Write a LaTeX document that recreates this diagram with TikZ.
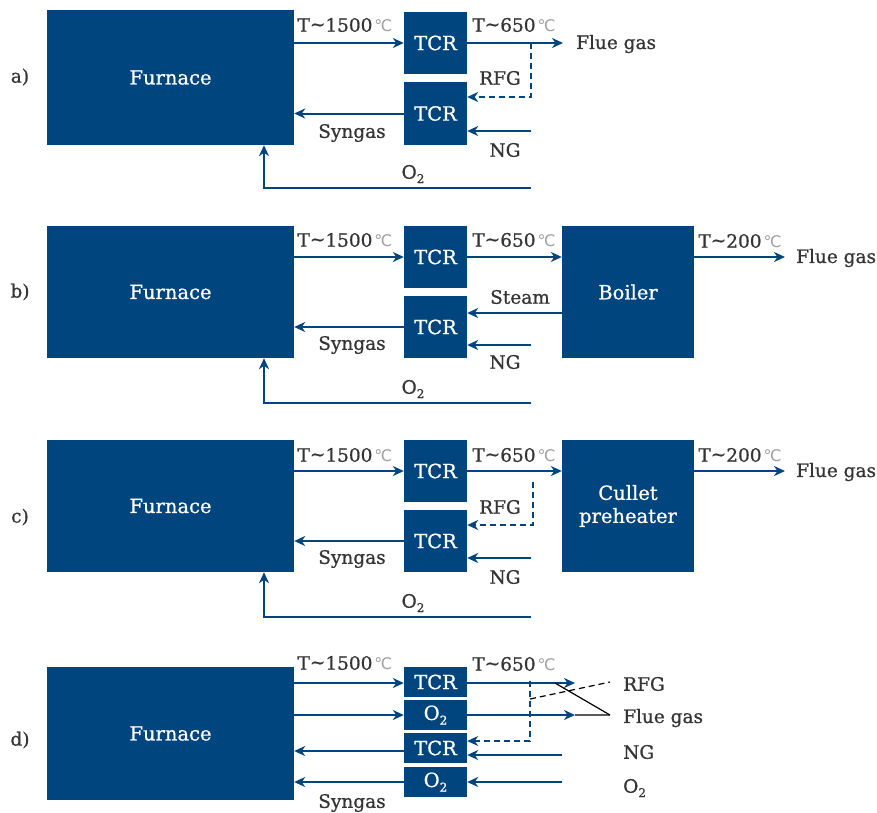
\documentclass[tikz,border=0pt]{standalone}
\usepackage{fontspec}
\setmainfont{DejaVu Serif}[RawFeature={embolden=0.8}]
\newfontfamily\symfam{DejaVu Sans}
\usetikzlibrary{arrows.meta}
\definecolor{boxblue}{HTML}{00457E}
\definecolor{txtgray}{HTML}{353535}
\newcommand{\dgc}{\hspace{2pt}{\symfam\color{gray!75}\fontsize{16}{16}\selectfont ℃}}
\newcommand{\otwo}{O\raisebox{-0.45ex}{\fontsize{12}{12}\selectfont 2}}
\tikzset{
  blk/.style={fill=boxblue, text=white, draw=none, inner sep=0pt, align=center, font=\fontsize{19.5}{23}\selectfont},
  lbl/.style={text=txtgray, inner sep=1pt, font=\fontsize{18.5}{21}\selectfont},
  arr/.style={draw=boxblue, line width=2pt, -{Stealth[length=11pt,width=10pt,inset=3.5pt]}},
  dsh/.style={dashed, dash pattern=on 6pt off 4pt},
}
\begin{document}
\begin{tikzpicture}[x=1pt,y=-1pt]
\useasboundingbox (0,0) rectangle (877,812);
% ---------- panel a ----------
\node[lbl] (la) at (20,77) {a)};
\node[blk, minimum width=247, minimum height=135] (fa) at (170.5,77.5) {Furnace};
\node[blk, minimum width=63, minimum height=62] (ta1) at (435.5,43) {TCR};
\node[blk, minimum width=63, minimum height=63] (ta2) at (435.5,113.5) {TCR};
\coordinate (fga) at (563,43);
\coordinate (ra1) at (531,43);
\coordinate (ra2) at (531,97);
\coordinate (nga) at (531,131);
\coordinate (oa1) at (531,188);
\coordinate (oa2) at (264,188);
\draw[arr] (ta1.west -| fa.east) -- (ta1.west);
\draw[arr] (ta1.east) -- (fga);
\draw[arr, dsh] (ra1) -- (ra2) -- (ra2 -| ta2.east);
\draw[arr] (ta2.west) -- (ta2.west -| fa.east);
\draw[arr] (nga) -- (nga -| ta2.east);
\draw[arr] (oa1) -- (oa2) -- (oa2 |- fa.south);
\node[lbl] (a1500) at (345,25) {T\raisebox{0.1ex}{\textasciitilde}1500\dgc};
\node[lbl] (a650) at (514,25) {T\raisebox{0.1ex}{\textasciitilde}650\dgc};
\node[lbl, anchor=west] (aflue) at (575,44) {Flue gas};
\node[lbl] (arfg) at (500,78) {RFG};
\node[lbl] (asyn) at (352,133) {Syngas};
\node[lbl] (ang) at (505,150) {NG};
\node[lbl] (ao2) at (413,174) {\otwo};
% ---------- panel b ----------
\node[lbl] (lb) at (20,292) {b)};
\node[blk, minimum width=247, minimum height=132] (fb) at (170.5,292) {Furnace};
\node[blk, minimum width=63, minimum height=62] (tb1) at (435.5,257) {TCR};
\node[blk, minimum width=63, minimum height=62] (tb2) at (435.5,327) {TCR};
\node[blk, minimum width=132, minimum height=132] (boil) at (628,292) {Boiler};
\coordinate (stb) at (562,313);
\coordinate (ngb) at (531,345);
\coordinate (ob1) at (531,403);
\coordinate (ob2) at (264,403);
\coordinate (fgb) at (785,257);
\draw[arr] (tb1.west -| fb.east) -- (tb1.west);
\draw[arr] (tb1.east) -- (tb1.east -| boil.west);
\draw[arr] (stb) -- (stb -| tb2.east);
\draw[arr] (tb2.west) -- (tb2.west -| fb.east);
\draw[arr] (ngb) -- (ngb -| tb2.east);
\draw[arr] (ob1) -- (ob2) -- (ob2 |- fb.south);
\draw[arr] (fgb -| boil.east) -- (fgb);
\node[lbl] (b1500) at (345,240) {T\raisebox{0.1ex}{\textasciitilde}1500\dgc};
\node[lbl] (b650) at (514,240) {T\raisebox{0.1ex}{\textasciitilde}650\dgc};
\node[lbl] (b200) at (740,241) {T\raisebox{0.1ex}{\textasciitilde}200\dgc};
\node[lbl, anchor=west] (bflue) at (795,258) {Flue gas};
\node[lbl] (bst) at (520,297) {Steam};
\node[lbl] (bsyn) at (352,345) {Syngas};
\node[lbl] (bng) at (505,362) {NG};
\node[lbl] (bo2) at (413,389) {\otwo};
% ---------- panel c ----------
\node[lbl] (lc) at (20,517) {c)};
\node[blk, minimum width=247, minimum height=132] (fc) at (170.5,506) {Furnace};
\node[blk, minimum width=63, minimum height=62] (tc1) at (435.5,471) {TCR};
\node[blk, minimum width=63, minimum height=62] (tc2) at (435.5,541) {TCR};
\node[blk, minimum width=132, minimum height=132] (cul) at (628,506) {Cullet\\preheater};
\coordinate (rc1) at (533,482);
\coordinate (rc2) at (533,525);
\coordinate (ngc) at (531,558);
\coordinate (oc1) at (531,617);
\coordinate (oc2) at (264,617);
\coordinate (fgc) at (785,471);
\draw[arr] (tc1.west -| fc.east) -- (tc1.west);
\draw[arr] (tc1.east) -- (tc1.east -| cul.west);
\draw[arr, dsh] (rc1) -- (rc2) -- (rc2 -| tc2.east);
\draw[arr] (tc2.west) -- (tc2.west -| fc.east);
\draw[arr] (ngc) -- (ngc -| tc2.east);
\draw[arr] (oc1) -- (oc2) -- (oc2 |- fc.south);
\draw[arr] (fgc -| cul.east) -- (fgc);
\node[lbl] (c1500) at (345,455) {T\raisebox{0.1ex}{\textasciitilde}1500\dgc};
\node[lbl] (c650) at (514,455) {T\raisebox{0.1ex}{\textasciitilde}650\dgc};
\node[lbl] (c200) at (740,455) {T\raisebox{0.1ex}{\textasciitilde}200\dgc};
\node[lbl, anchor=west] (cflue) at (795,472) {Flue gas};
\node[lbl] (crfg) at (500,507) {RFG};
\node[lbl] (csyn) at (352,559) {Syngas};
\node[lbl] (cng) at (505,577) {NG};
\node[lbl] (co2) at (413,603) {\otwo};
% ---------- panel d ----------
\node[lbl] (ld) at (20,740) {d)};
\node[blk, minimum width=247, minimum height=133] (fd) at (170.5,733.5) {Furnace};
\node[blk, minimum width=63, minimum height=30] (td1) at (435.5,682) {TCR};
\node[blk, minimum width=63, minimum height=30] (td2) at (435.5,715) {\otwo};
\node[blk, minimum width=63, minimum height=30] (td3) at (435.5,748) {TCR};
\node[blk, minimum width=63, minimum height=30] (td4) at (435.5,782) {\otwo};
\coordinate (d1e) at (575,683);
\coordinate (d2e) at (575,715);
\coordinate (dj) at (610,715);
\coordinate (dk) at (555,683);
\coordinate (dr1) at (530,699);
\coordinate (dr2) at (610,682);
\coordinate (db1) at (530,681);
\coordinate (db2) at (530,741);
\coordinate (dng) at (562,755);
\coordinate (do2) at (562,782);
\draw[arr] (d1e -| fd.east) -- (d1e -| td1.west);
\draw[arr] (d1e -| td1.east) -- (d1e);
\draw[arr] (d2e -| fd.east) -- (td2.west);
\draw[arr] (td2.east) -- (d2e);
\draw[gray!70!black, line width=1.2pt] (d2e) -- (dj);
\draw[black, line width=1.2pt] (dk) -- (dj);
\draw[black, line width=1.2pt, dsh] (dr1) -- (dr2);
\draw[arr, line width=1.6pt, dsh] (db1) -- (db2) -- (db2 -| td3.east);
\draw[arr] (dng) -- (dng -| td3.east);
\draw[arr] (do2) -- (do2 -| td4.east);
\draw[arr] ([yshift=-3]td3.west) -- ([yshift=-3]td3.west -| fd.east);
\draw[arr] (td4.west) -- (td4.west -| fd.east);
\node[lbl] (d1500) at (345,663) {T\raisebox{0.1ex}{\textasciitilde}1500\dgc};
\node[lbl] (d650) at (514,664) {T\raisebox{0.1ex}{\textasciitilde}650\dgc};
\node[lbl, anchor=west] (drfg) at (622,684) {RFG};
\node[lbl, anchor=west] (dflue) at (622,718) {Flue gas};
\node[lbl, anchor=west] (dng2) at (622,752) {NG};
\node[lbl, anchor=west] (do22) at (622,788) {\otwo};
\node[lbl] (dsyn) at (352,803) {Syngas};
\end{tikzpicture}
\end{document}
